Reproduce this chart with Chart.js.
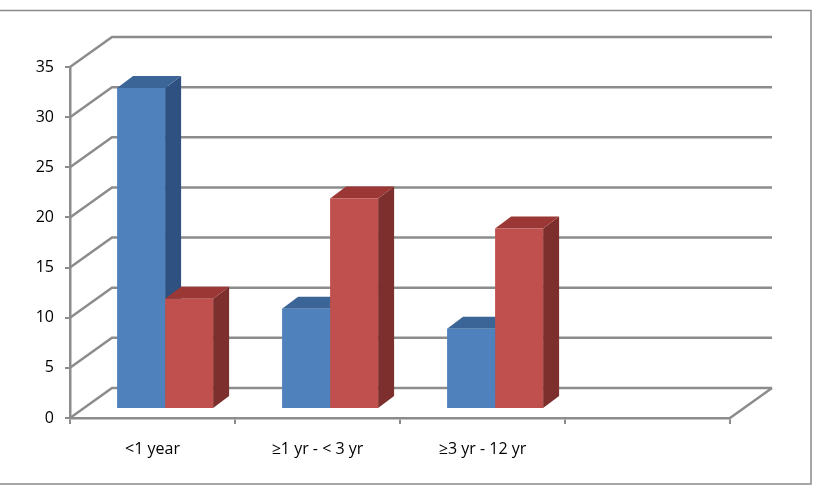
<!DOCTYPE html>
<html>
<head>
<meta charset="utf-8">
<script src="https://cdn.jsdelivr.net/npm/chart.js@4/dist/chart.umd.min.js"></script>
<style>
  body { margin: 0; background: #fff; }
  #wrap { position: relative; width: 816px; height: 488px; }
</style>
</head>
<body>
<div id="wrap"><canvas id="ageChart" width="816" height="488"></canvas></div>
<script>
// categories (4th slot is empty in the original)
const categories = ['<1 year', '\u22651 yr - < 3 yr', '\u22653 yr - 12 yr', ''];
const seriesBlue = [32, 10, 8, null];
const seriesRed = [11, 21, 18, null];
const yTicks = [0, 5, 10, 15, 20, 25, 30, 35];

// fake 3D settings
const wallDX = 42, wallDY = -30;     // depth of the back wall
const barDX = 12.6, barDY = -9;      // bars sit a bit behind the front plane
const boxDX = 16, boxDY = -12;       // depth of each bar
const gridColor = '#8c8c8c';
const faces = [
  { top: '#3b6597', side: '#2f5181' },
  { top: '#9b3734', side: '#7c2f2d' }
];

// walls + grid on the back, drawn from the y scale
const walls3d = {
  id: 'walls3d',
  beforeDatasetsDraw(chart) {
    const ctx = chart.ctx;
    const y = chart.scales.y;
    const a = chart.chartArea;
    ctx.save();
    ctx.strokeStyle = gridColor;
    ctx.lineWidth = 2.5;
    yTicks.forEach(v => {
      const py = y.getPixelForValue(v);
      ctx.beginPath();
      ctx.moveTo(a.left, py);
      ctx.lineTo(a.left + wallDX, py + wallDY);
      ctx.lineTo(a.right + wallDX, py + wallDY);
      ctx.stroke();
    });
    // right edge of the floor
    ctx.beginPath();
    ctx.moveTo(a.right, a.bottom);
    ctx.lineTo(a.right + wallDX, a.bottom + wallDY);
    ctx.stroke();

    // sides and tops of the bars
    chart.data.datasets.forEach((ds, i) => {
      const meta = chart.getDatasetMeta(i);
      meta.data.forEach((bar, j) => {
        if (ds.data[j] == null) return;
        const p = bar.getProps(['x', 'y', 'base', 'width'], true);
        const L = p.x - p.width / 2 + barDX, R = p.x + p.width / 2 + barDX;
        const T = p.y + barDY, B = p.base + barDY;
        ctx.fillStyle = faces[i].side;
        ctx.beginPath();
        ctx.moveTo(R, T);
        ctx.lineTo(R + boxDX, T + boxDY);
        ctx.lineTo(R + boxDX, B + boxDY);
        ctx.lineTo(R, B);
        ctx.closePath();
        ctx.fill();
        ctx.fillStyle = faces[i].top;
        ctx.beginPath();
        ctx.moveTo(L, T);
        ctx.lineTo(L + boxDX, T + boxDY);
        ctx.lineTo(R + boxDX, T + boxDY);
        ctx.lineTo(R, T);
        ctx.closePath();
        ctx.fill();
      });
    });
    ctx.restore();
    // shift the front faces drawn by chart.js
    ctx.save();
    ctx.translate(barDX, barDY);
  },
  afterDatasetsDraw(chart) {
    chart.ctx.restore();
  },
  afterDraw(chart) {
    // outer frame
    const ctx = chart.ctx;
    ctx.save();
    ctx.strokeStyle = '#8a8a8a';
    ctx.lineWidth = 1.5;
    ctx.beginPath();
    ctx.moveTo(0, 10.5);
    ctx.lineTo(811, 10.5);
    ctx.lineTo(811, 484);
    ctx.lineTo(0, 484);
    ctx.stroke();
    ctx.restore();
  }
};

new Chart(document.getElementById('ageChart'), {
  type: 'bar',
  data: {
    labels: categories,
    datasets: [
      { label: 'A', data: seriesBlue, backgroundColor: '#4f81bd', borderWidth: 0 },
      { label: 'B', data: seriesRed, backgroundColor: '#c0504d', borderWidth: 0 }
    ]
  },
  options: {
    responsive: false,
    animation: false,
    devicePixelRatio: 1,
    events: [],
    clip: false,
    layout: { padding: { top: 67, right: 86, left: 0, bottom: 0 } },
    datasets: { bar: { categoryPercentage: 0.582, barPercentage: 1 } },
    plugins: { legend: { display: false }, tooltip: { enabled: false } },
    scales: {
      x: {
        grid: { drawOnChartArea: false, color: gridColor, lineWidth: 2, tickLength: 6, offset: true },
        border: { color: gridColor, width: 2.5 },
        ticks: { color: '#000', padding: 16, maxRotation: 0, font: { family: 'Open Sans', size: 16 } },
        afterFit(s) { s.height = 70; }
      },
      y: {
        min: 0, max: 35,
        ticks: { stepSize: 5, color: '#000', padding: 11, font: { family: 'Open Sans', size: 16 } },
        grid: { drawOnChartArea: false, color: gridColor, lineWidth: 2, tickLength: 5 },
        border: { color: gridColor, width: 2.5 },
        afterFit(s) { s.width = 70; }
      }
    }
  },
  plugins: [walls3d]
});
</script>
</body>
</html>
